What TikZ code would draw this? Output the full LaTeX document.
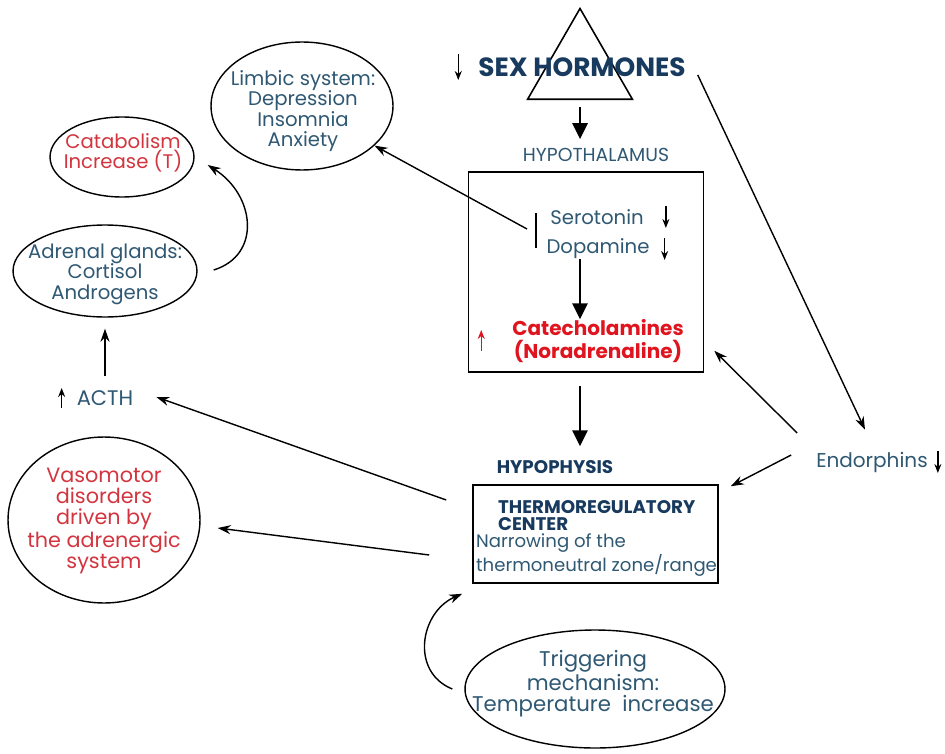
\documentclass[tikz,border=0pt]{standalone}
\usepackage{fontspec}
\setmainfont{Poppins}
\usetikzlibrary{arrows.meta, shapes.geometric, calc}
\definecolor{slate}{HTML}{2F5873}
\definecolor{navy}{HTML}{173A5E}
\definecolor{crim}{HTML}{E0141E}
\definecolor{rose}{HTML}{D2353F}

\tikzset{
	txt/.style={text=slate, font=\fontsize{11.2}{11.6}\selectfont, align=center, inner sep=1pt},
	hdr/.style={text=navy, font=\bfseries\fontsize{10.4}{9.8}\selectfont, inner sep=1pt},
	oval/.style={ellipse, draw, line width=0.8pt, inner sep=0pt},
	box/.style={draw, line width=0.9pt, inner sep=0pt},
	thin/.style={-{Stealth[length=2.6mm,width=1.8mm]}, line width=0.8pt},
	fat/.style={-{Triangle[length=3.2mm,width=3mm]}, line width=1.6pt},
	tick/.style={-{Stealth[length=1.8mm,width=1.4mm]}, line width=0.8pt},
}

\begin{document}
\begin{tikzpicture}[x=0.02cm, y=-0.02cm]
	\useasboundingbox (0,0) rectangle (945,753);
	%top
	\node[regular polygon, regular polygon sides=3, draw, line width=0.9pt, minimum size=2.42cm, inner sep=0pt] (tri) at (580,69) {};
	\node[text=navy, font=\bfseries\fontsize{15}{17}\selectfont, inner sep=1pt] (sex) at (582,67) {SEX HORMONES};
	\draw[tick] ($(sex.west)+(-18,-13)$) -- ++(0,26);
	\node[txt, font=\fontsize{10.7}{12}\selectfont] (hypo) at (596,155) {HYPOTHALAMUS};
	\draw[fat] ([yshift=-4pt]tri.south) -- ([yshift=4pt]tri.south |- hypo.north);
	%hypothalamus box
	\node[box, minimum width=4.7cm, minimum height=4cm] (hbox) at (586,272) {};
	\node[txt] (sero) at (597,217) {Serotonin};
	\node[txt] (dopa) at (598,249) {Dopamine};
	\draw[tick] ($(sero.east)+(20,-11)$) -- ++(0,22);
	\draw[tick] ($(dopa.east)+(13,-11)$) -- ++(0,22);
	\coordinate (inh) at (527,229);
	\draw[line width=0.9pt] (536,213) -- (536,248);
	\node[text=crim, font=\bfseries\fontsize{11.4}{13}\selectfont, align=center, inner sep=1pt] (cat) at (598,341) {Catecholamines\\(Noradrenaline)};
	\draw[tick, crim] ($(cat.west)+(-29,10)$) -- ++(0,-21);
	\draw[fat] ([shift={(-18,-2)}]dopa.south) -- ([shift={(-18,2)}]cat.north);
	%hypophysis box
	\node[hdr] (hyph) at (555,467) {HYPOPHYSIS};
	\draw[fat] ([shift={(-6,13)}]hbox.south) -- ([shift={(25,-12)}]hyph.north);
	\node[box, minimum width=4.9cm, minimum height=1.96cm] (tbox) at (595.5,534) {};
	\node[hdr, align=left, anchor=north west] (thermo) at (496,498) {THERMOREGULATORY\\CENTER};
	\node[txt, align=left, anchor=north west, font=\fontsize{10.3}{10.5}\selectfont] (narrow) at (474,532) {Narrowing of the\\thermoneutral zone/range};
	%right side
	\node[txt, font=\fontsize{11.4}{11.6}\selectfont] (endo) at (872,462) {Endorphins};
	\draw[tick] ($(endo.east)+(8,-11)$) -- ++(0,22);
	\draw[thin] ([shift={(10,8)}]sex.east) -- ([shift={(-7,-20)}]endo.north);
	\draw[thin] ([shift={(-17,-29)}]endo.west) -- ([shift={(10,-22)}]hbox.south east);
	\draw[thin] ([shift={(-23,-7)}]endo.west) -- ([shift={(12,2)}]tbox.north east);
	%left side ovals, text set on top
	\node[oval, minimum width=3.64cm, minimum height=2.56cm] (limbic) at (302,106) {};
	\node[txt] (limbictxt) at (303,111) {Limbic system:\\Depression\\Insomnia\\Anxiety};
	\node[oval, minimum width=2.88cm, minimum height=1.6cm] (catab) at (122,157) {};
	\node[txt, text=rose] (catabtxt) at (123,153) {Catabolism\\Increase (T)};
	\node[oval, minimum width=3.68cm, minimum height=1.84cm] (adren) at (105,271) {};
	\node[txt] (adrentxt) at (105,274) {Adrenal glands:\\Cortisol\\Androgens};
	\node[txt, font=\fontsize{12}{12}\selectfont] (acth) at (105,398) {ACTH};
	\draw[tick] ($(acth.west)+(-13,10)$) -- ++(0,-20);
	\node[oval, minimum width=3.84cm, minimum height=3.32cm] (vaso) at (104,520) {};
	\node[txt, text=rose, font=\fontsize{11.8}{12}\selectfont] (vasotxt) at (104,521) {Vasomotor\\disorders\\driven by\\the adrenergic\\system};
	\node[oval, minimum width=5.2cm, minimum height=2.36cm] (trig) at (595,689) {};
	\node[txt, font=\fontsize{12.1}{12}\selectfont] (trigtxt) at (593,684) {Triggering\\mechanism:\\Temperature\ \ increase};
	%connectors
	\draw[thin] (inh) -- (limbic);
	\draw[thin] ([shift={(16,-1)}]adren.east) .. controls (262,255) and (255,195) .. ([shift={(13,8)}]catab.east);
	\draw[thin] ([shift={(0,-12)}]acth.north) -- ([shift={(0,11)}]adren.south);
	\draw[thin] ([shift={(-26,-34)}]tbox.west) -- ([shift={(21,-1)}]acth.east);
	\draw[thin] ([shift={(-43,21)}]tbox.west) -- ([shift={(17,8)}]vaso.east);
	\draw[thin] ([shift={(-12,0)}]trig.west) .. controls (410,672) and (420,612) .. ([shift={(-10,10)}]tbox.south west);
\end{tikzpicture}
\end{document}
